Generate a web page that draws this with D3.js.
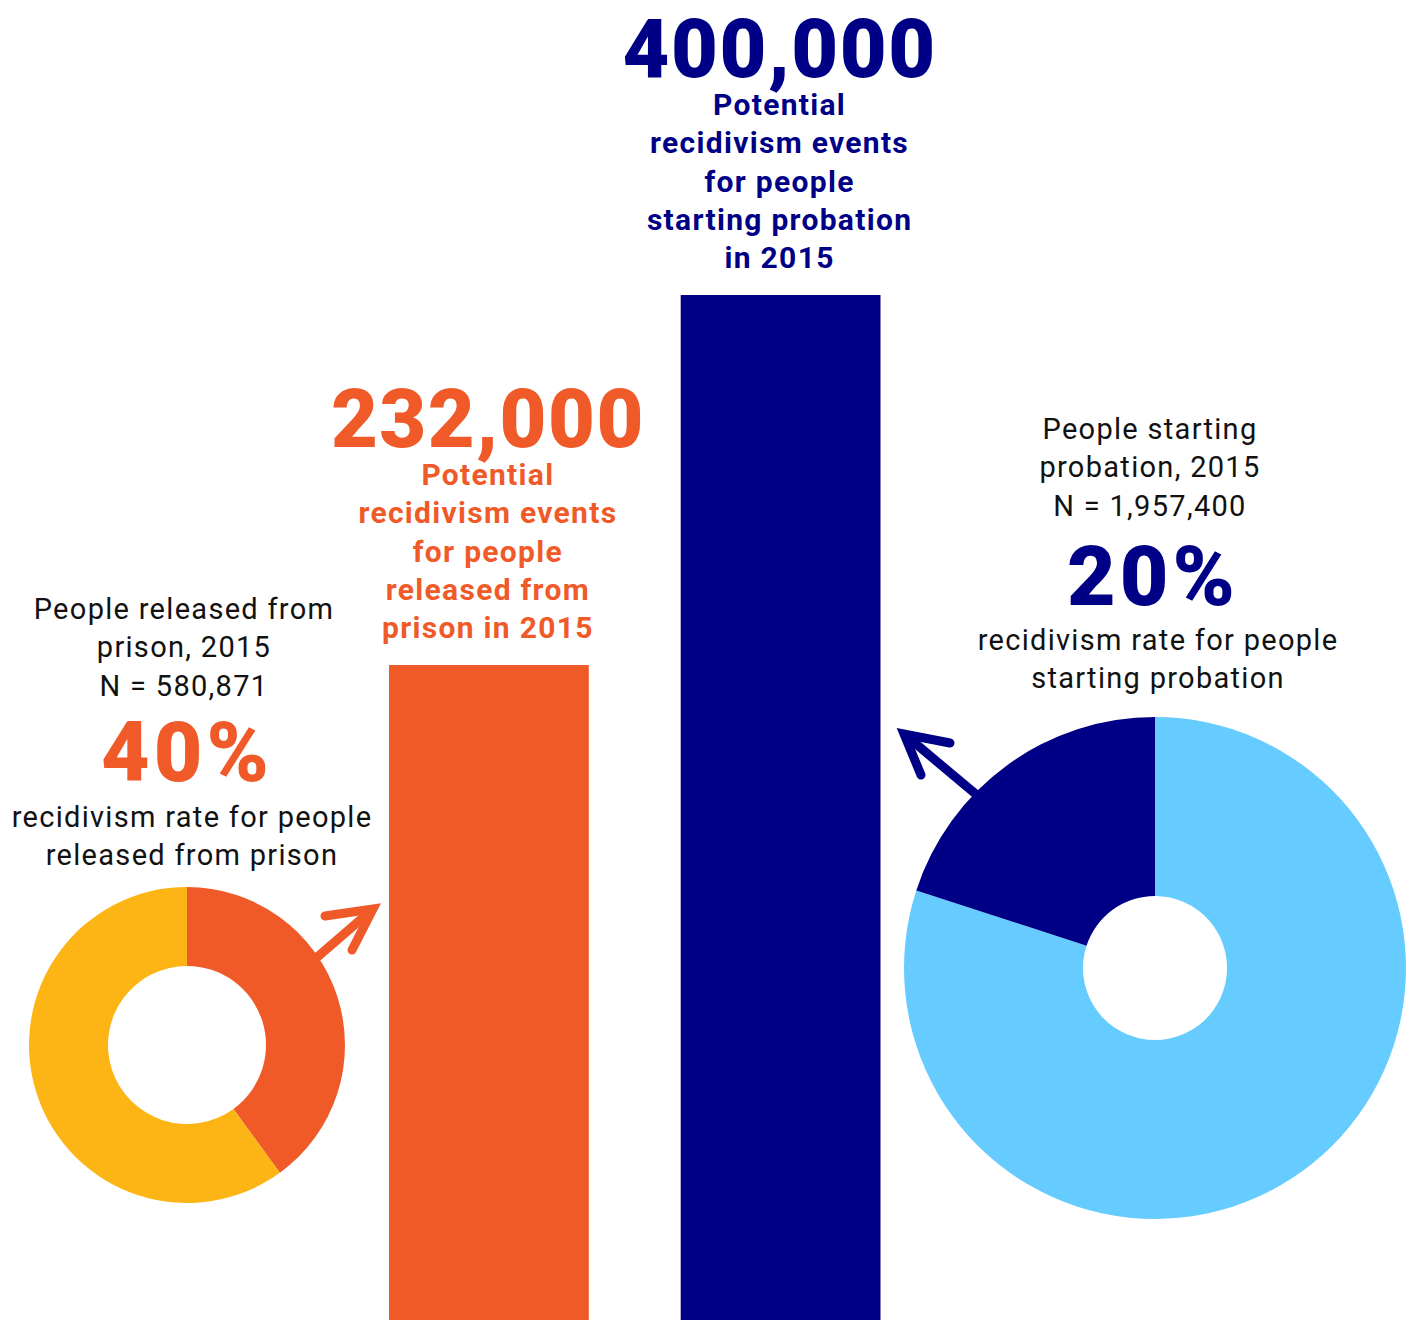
<!DOCTYPE html>
<html><head><meta charset="utf-8">
<script src="https://cdn.jsdelivr.net/npm/d3@7"></script>
<style>html,body{margin:0;padding:0;background:#fff;} svg{display:block;}</style>
</head><body>
<svg id="chart" width="1414" height="1320"></svg>
<script>
// ---- data ----
const barCategories = ["prison", "probation"];
const barValues = [232000, 400000];
const barLabels = ["232,000", "400,000"];
const barCaptions = [
  ["Potential", "recidivism events", "for people", "released from", "prison in 2015"],
  ["Potential", "recidivism events", "for people", "starting probation", "in 2015"]
];
const prisonSlices = ["recidivism", "other"];
const prisonShares = [40, 60];
const probationSlices = ["other", "recidivism"];
const probationShares = [80, 20];
const prisonHeader = ["People released from", "prison, 2015", "N = 580,871"];
const prisonRate = "40%";
const prisonRateText = ["recidivism rate for people", "released from prison"];
const probationHeader = ["People starting", "probation, 2015", "N = 1,957,400"];
const probationRate = "20%";
const probationRateText = ["recidivism rate for people", "starting probation"];

const ORANGE = "#F05A28", NAVY = "#000086", YELLOW = "#FDB515", LIGHTBLUE = "#66CCFF";
const barColors = [ORANGE, NAVY];

const svg = d3.select("#chart");
const H = 1320;
const FONT = "Roboto, 'Liberation Sans', sans-serif";

// ---- bars ----
const x = d3.scaleBand().domain(barCategories).range([389, 880.5]).paddingInner(0.315).paddingOuter(0);
const y = d3.scaleLinear().domain([0, 400000]).range([1176, 295]);

svg.selectAll("rect.bar").data(barValues).join("rect")
  .attr("class", "bar")
  .attr("x", (d, i) => x(barCategories[i]))
  .attr("width", x.bandwidth())
  .attr("y", d => y(d))
  .attr("height", d => H - y(d))
  .attr("fill", (d, i) => barColors[i]);

barValues.forEach((v, i) => {
  const cx = x(barCategories[i]) + x.bandwidth() / 2 - 1;
  const top = y(v);
  const g = svg.append("g").attr("fill", barColors[i]).attr("font-family", FONT).attr("text-anchor", "middle");
  const caps = barCaptions[i];
  caps.forEach((line, k) => {
    g.append("text").attr("x", cx).attr("y", top - 27 - (caps.length - 1 - k) * 38.2)
      .attr("font-size", 30).attr("font-weight", 700).attr("letter-spacing", 1.3).text(line);
  });
  g.append("text").attr("x", cx).attr("y", top - 218)
    .attr("font-size", 81).attr("font-weight", 900).attr("letter-spacing", 1.5).text(barLabels[i]);
});

// ---- donuts ----
function donut(cx, cy, rOuter, rInner, values, colors) {
  const pie = d3.pie().sort(null).startAngle(0).endAngle(2 * Math.PI);
  const arc = d3.arc().innerRadius(rInner).outerRadius(rOuter);
  svg.append("g").attr("transform", `translate(${cx},${cy})`)
    .selectAll("path").data(pie(values)).join("path")
    .attr("d", arc).attr("fill", (d, i) => colors[i]);
}
donut(187, 1045, 158, 79, prisonShares, [ORANGE, YELLOW]);
donut(1155, 968, 251, 72, probationShares, [LIGHTBLUE, NAVY]);

// ---- arrows ----
function arrow(x1, y1, x2, y2, b1, b2, color) {
  const g = svg.append("g").attr("stroke", color).attr("fill", "none")
    .attr("stroke-width", 9).attr("stroke-linecap", "round").attr("stroke-linejoin", "miter");
  g.append("line").attr("x1", x1).attr("y1", y1).attr("x2", x2 - (x2 - x1) * 0.06).attr("y2", y2 - (y2 - y1) * 0.06)
    .attr("stroke-linecap", "butt");
  g.append("path").attr("d", `M${b1[0]},${b1[1]}L${x2},${y2}L${b2[0]},${b2[1]}`);
}
arrow(300, 972, 373, 909, [325, 916], [352, 950], ORANGE);
arrow(990, 806, 904, 734, [950, 743], [921, 775], NAVY);

// ---- text blocks ----
function block(cx, header, hY, rate, rateY, rateColor, lines, lY) {
  const g = svg.append("g").attr("font-family", FONT).attr("text-anchor", "middle");
  header.forEach((t, k) => g.append("text").attr("x", cx).attr("y", hY + k * 38.3)
    .attr("font-size", 29).attr("letter-spacing", 1.3).attr("fill", "#111").text(t));
  g.append("text").attr("x", cx + 3).attr("y", rateY).attr("font-size", 84).attr("font-weight", 900)
    .attr("letter-spacing", 4).attr("fill", rateColor).text(rate);
  lines.forEach((t, k) => g.append("text").attr("x", cx + 8).attr("y", lY + k * 38.3)
    .attr("font-size", 29).attr("letter-spacing", 1.3).attr("fill", "#111").text(t));
}
block(184, prisonHeader, 619, prisonRate, 781, ORANGE, prisonRateText, 827);
block(1150, probationHeader, 439, probationRate, 605, NAVY, probationRateText, 650);
</script>
</body></html>
